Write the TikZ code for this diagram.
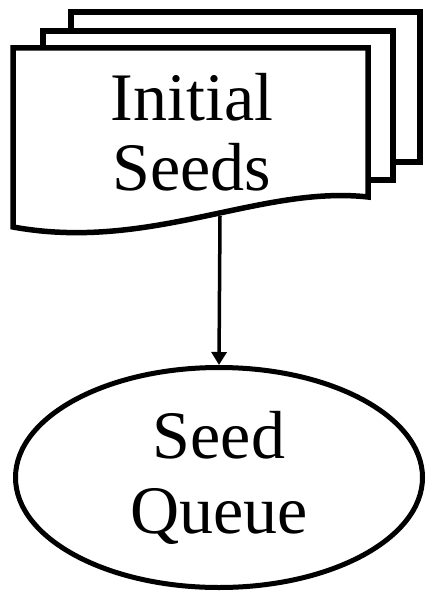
\documentclass[tikz,border=0pt]{standalone}
\usepackage{fontspec}
\setmainfont{Liberation Serif}
\usetikzlibrary{shapes.geometric,arrows.meta}
\begin{document}
\begin{tikzpicture}[x=1pt,y=-1pt,
  docline/.style={draw=black,fill=white,line width=5.5pt,line join=miter},
  bigtext/.style={font=\fontsize{68}{70}\selectfont,align=center,inner sep=0pt},
  queuebox/.style={ellipse,draw=black,fill=white,line width=5pt,
    minimum width=407pt,minimum height=220pt,inner sep=0pt,
    font=\fontsize{68}{75}\selectfont,align=center},
  flow/.style={line width=3.5pt,-{Triangle[length=13pt,width=15pt]}}]
  \useasboundingbox (0,0) rectangle (426,593);
  % stacked document sheets, back to front
  \draw[docline] (71,12) rectangle (420,162);
  \draw[docline] (43,31) rectangle (393,180);
  \draw[docline] (13,48) -- (368,48) -- (368,197)
    .. controls (260,185) and (150,252) .. (13,227) -- cycle;
  \node[bigtext] (seeds) at (192,132.5) {Initial\\Seeds};
  \coordinate (docbottom) at (220,216);
  % seed queue
  \node[queuebox] (queue) at (219,477.5) {Seed\\Queue};
  \draw[flow] (docbottom) -- (queue.north);
\end{tikzpicture}
\end{document}
